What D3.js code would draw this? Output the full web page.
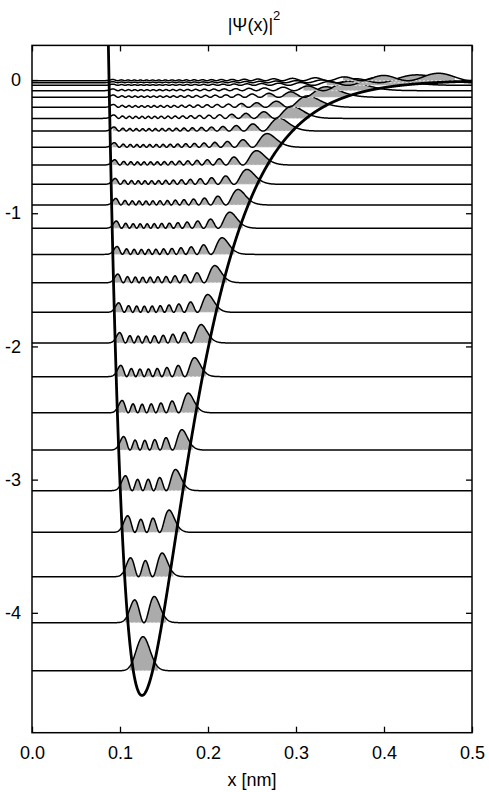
<!DOCTYPE html>
<html><head><meta charset="utf-8">
<script src="https://cdn.jsdelivr.net/npm/d3@7"></script>
<style>
body{margin:0;background:#fff}
svg{display:block}
text{font-family:"Liberation Sans",Arial,Helvetica,sans-serif;fill:#000}
</style>
</head><body>
<svg id="c" width="489" height="792"></svg>
<script>
// ---- data ----
const xTicks = [0.0, 0.1, 0.2, 0.3, 0.4, 0.5];
const yTicks = [0, -1, -2, -3, -4];
// energy levels (baselines) of the bound states, bottom to top
const levels = [-4.435, -4.074, -3.729, -3.396, -3.083, -2.778, -2.498, -2.227,
  -1.974, -1.744, -1.522, -1.309, -1.113, -0.938, -0.783, -0.638, -0.505,
  -0.383, -0.288, -0.205, -0.130, -0.080, -0.040, -0.020, -0.005];
// Morse potential parameters
const morseDepth = 4.62;    // well depth
const morseA = 18.5;        // width parameter [1/nm]
const morseX0 = 0.125;      // position of minimum [nm]
const kineticConst = 2.222e-5; // hbar^2/2m  [eV nm^2]
const psiScale = 0.005;     // drawing scale for |psi|^2
const fillThreshold = 0.028; // shaded where the drawn |psi|^2 rises above this
const xDomain = [0, 0.5];
const yDomain = [-4.9, 0.26];

// ---- layout ----
const W = 489, H = 792;
const m = {left: 32, right: 17, top: 45.4, bottom: 59.3};
const svg = d3.select("#c");
const x = d3.scaleLinear().domain(xDomain).range([m.left, W - m.right]);
const y = d3.scaleLinear().domain(yDomain).range([H - m.bottom, m.top]);

const V = xx => morseDepth * Math.pow(1 - Math.exp(-morseA * (xx - morseX0)), 2) - morseDepth;

// ---- grid and eigenstates (finite differences in the box [0,0.5]) ----
const N = 1000, h = (xDomain[1] - xDomain[0]) / N;
const t = kineticConst / (h * h);
const xs = d3.range(N + 1).map(i => xDomain[0] + i * h);
const Vg = xs.map(V);

function sturmCount(s) {
  let q = 1, c = 0;
  for (let i = 1; i < N; i++) {
    const d = 2 * t + Vg[i] - s;
    q = (i === 1) ? d : d - t * t / q;
    if (q === 0) q = -1e-300;
    if (q < 0) c++;
  }
  return c;
}
function eigenvalue(n) {
  let lo = -morseDepth - 1, hi = 5;
  for (let k = 0; k < 80; k++) {
    const mid = (lo + hi) / 2;
    if (sturmCount(mid) > n) hi = mid; else lo = mid;
  }
  return (lo + hi) / 2;
}
function eigenvector(E) {
  let r = -1;
  for (let i = N - 1; i >= 1; i--) if (Vg[i] < E) { r = i; break; }
  const f = new Float64Array(N + 1);
  f[0] = 0; f[1] = 1;
  const fEnd = (r < 0 || r > N - 8) ? N - 1 : Math.min(r + 4, N - 1);
  for (let i = 1; i < fEnd; i++) {
    f[i + 1] = ((2 * t + Vg[i] - E) * f[i] - t * f[i - 1]) / t;
    if (Math.abs(f[i + 1]) > 1e100) for (let k = 0; k <= i + 1; k++) f[k] *= 1e-100;
  }
  const psi = new Float64Array(N + 1);
  if (r < 0 || r > N - 8) {
    for (let i = 0; i < N; i++) psi[i] = f[i];
    psi[N] = 0;
  } else {
    const b = new Float64Array(N + 1);
    b[N] = 0; b[N - 1] = 1;
    for (let i = N - 1; i > r - 5; i--) {
      b[i - 1] = ((2 * t + Vg[i] - E) * b[i] - t * b[i + 1]) / t;
      if (Math.abs(b[i - 1]) > 1e100) for (let k = i - 1; k <= N; k++) b[k] *= 1e-100;
    }
    let sfb = 0, sbb = 0;
    for (let k = r - 3; k <= r + 3; k++) { sfb += f[k] * b[k]; sbb += b[k] * b[k]; }
    const s = sfb / sbb;
    for (let i = 0; i <= N; i++) psi[i] = i <= r ? f[i] : s * b[i];
  }
  let norm = 0;
  for (let i = 0; i <= N; i++) norm += psi[i] * psi[i] * h;
  norm = Math.sqrt(norm);
  return Array.from(psi, v => v / norm);
}

const states = levels.map((E, n) => {
  const ev = eigenvalue(n);
  const psi = eigenvector(ev);
  const dens = psi.map(v => v * v);
  let iL = -1, iR = -1;
  for (let i = 0; i <= N; i++) if (psiScale * dens[i] > fillThreshold) { if (iL < 0) iL = i; iR = i; }
  return {E, dens, iL, iR};
});

// ---- drawing ----
svg.append("defs").append("clipPath").attr("id", "clip")
  .append("rect").attr("x", m.left).attr("y", m.top)
  .attr("width", W - m.left - m.right).attr("height", H - m.top - m.bottom);
const g = svg.append("g").attr("clip-path", "url(#clip)");

states.forEach(st => {
  if (st.iL >= 0) {
    const idx = d3.range(st.iL, st.iR + 1);
    g.append("path")
      .attr("d", d3.area().x(i => x(xs[i])).y0(y(st.E)).y1(i => y(st.E + psiScale * st.dens[i]))(idx))
      .attr("fill", "#ababab").attr("stroke", "none");
    g.append("line")
      .attr("x1", x(xs[st.iL])).attr("x2", x(xs[st.iR]))
      .attr("y1", y(st.E)).attr("y2", y(st.E))
      .attr("stroke", "#e6e6e6").attr("stroke-width", 1).attr("stroke-dasharray", "2,2");
  }
  g.append("path")
    .attr("d", d3.line().x((d, i) => x(xs[i])).y(d => y(st.E + psiScale * d))(st.dens))
    .attr("fill", "none").attr("stroke", "#000").attr("stroke-width", 1.5);
});

// potential curve
const px = d3.range(0.06, 0.5 + 1e-9, 0.0002);
g.append("path")
  .attr("d", d3.line().x(d => x(d)).y(d => y(Math.min(V(d), 1)))(px))
  .attr("fill", "none").attr("stroke", "#000").attr("stroke-width", 2.8);

// ---- axes (box with inward ticks on all sides) ----
const tickLen = 6;
const fmtX = d3.format(".1f");
const axB = svg.append("g").attr("transform", `translate(0,${H - m.bottom})`)
  .call(d3.axisBottom(x).tickValues(xTicks).tickFormat(fmtX).tickSizeInner(-tickLen).tickSizeOuter(0).tickPadding(14));
const axT = svg.append("g").attr("transform", `translate(0,${m.top})`)
  .call(d3.axisTop(x).tickValues(xTicks).tickFormat("").tickSizeInner(-tickLen).tickSizeOuter(0));
const axL = svg.append("g").attr("transform", `translate(${m.left},0)`)
  .call(d3.axisLeft(y).tickValues(yTicks).tickFormat(d3.format("d")).tickSizeInner(-tickLen).tickSizeOuter(0).tickPadding(11));
const axR = svg.append("g").attr("transform", `translate(${W - m.right},0)`)
  .call(d3.axisRight(y).tickValues(yTicks).tickFormat("").tickSizeInner(-tickLen).tickSizeOuter(0));
[axB, axT, axL, axR].forEach(a => {
  a.select(".domain").remove();
  a.selectAll(".tick line").attr("stroke", "#000").attr("stroke-width", 1.3);
  a.selectAll("text").attr("font-size", 18).attr("font-family", '"Liberation Sans",Arial,sans-serif').attr("fill", "#000");
});
axL.selectAll("text").text(d => d === 0 ? "0" : String(d).replace("−", "-"));

svg.append("rect")
  .attr("x", m.left).attr("y", m.top)
  .attr("width", W - m.left - m.right).attr("height", H - m.top - m.bottom)
  .attr("fill", "none").attr("stroke", "#000").attr("stroke-width", 1.5);

// labels
svg.append("text").attr("x", x(0.25)).attr("y", 786).attr("text-anchor", "middle")
  .attr("font-size", 18).text("x [nm]");
const title = svg.append("text").attr("x", x(0.25) + 2).attr("y", 31).attr("text-anchor", "middle")
  .attr("font-size", 18);
title.append("tspan").text("|Ψ(x)|");
title.append("tspan").attr("dy", -11).attr("font-size", 13).text("2");
</script>
</body></html>
